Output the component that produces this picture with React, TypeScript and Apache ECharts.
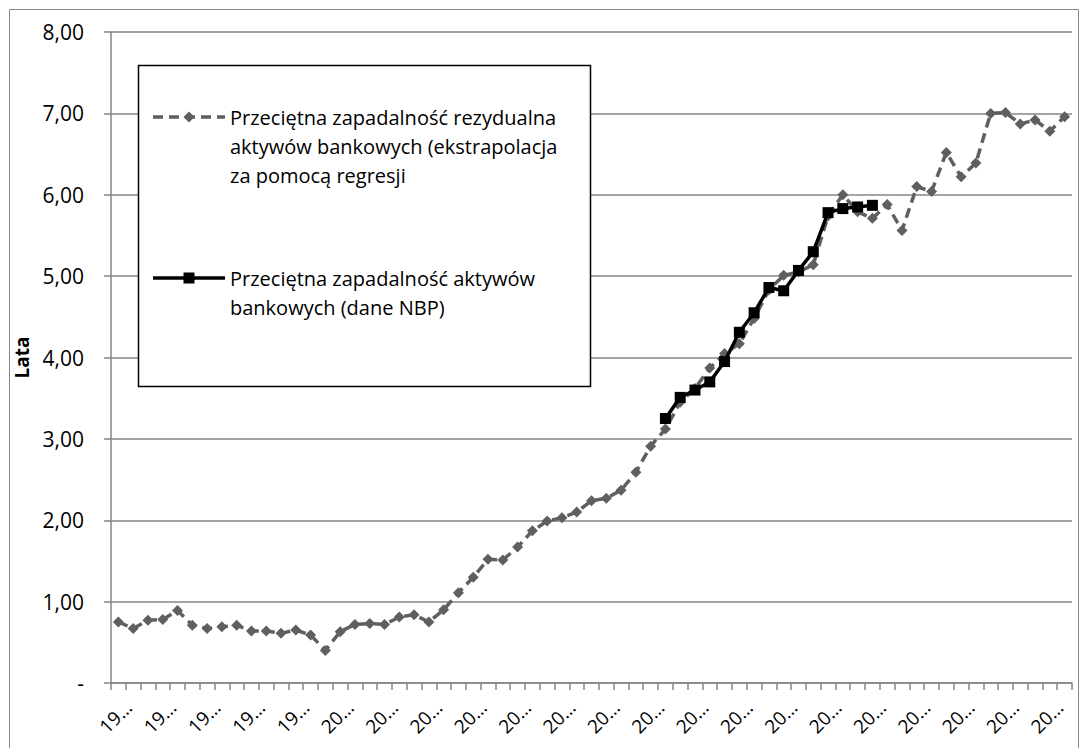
import React, { useEffect, useRef } from "react";
import * as echarts from "echarts";

const categories: string[] = [
  "1996 Q2", "1996 Q3", "1996 Q4",
  "1997 Q1", "1997 Q2", "1997 Q3", "1997 Q4",
  "1998 Q1", "1998 Q2", "1998 Q3", "1998 Q4",
  "1999 Q1", "1999 Q2", "1999 Q3", "1999 Q4",
  "2000 Q1", "2000 Q2", "2000 Q3", "2000 Q4",
  "2001 Q1", "2001 Q2", "2001 Q3", "2001 Q4",
  "2002 Q1", "2002 Q2", "2002 Q3", "2002 Q4",
  "2003 Q1", "2003 Q2", "2003 Q3", "2003 Q4",
  "2004 Q1", "2004 Q2", "2004 Q3", "2004 Q4",
  "2005 Q1", "2005 Q2", "2005 Q3", "2005 Q4",
  "2006 Q1", "2006 Q2", "2006 Q3", "2006 Q4",
  "2007 Q1", "2007 Q2", "2007 Q3", "2007 Q4",
  "2008 Q1", "2008 Q2", "2008 Q3", "2008 Q4",
  "2009 Q1", "2009 Q2", "2009 Q3", "2009 Q4",
  "2010 Q1", "2010 Q2", "2010 Q3", "2010 Q4",
  "2011 Q1", "2011 Q2", "2011 Q3", "2011 Q4",
  "2012 Q1", "2012 Q2",
];

const regressionName = "Przeciętna zapadalność rezydualna aktywów bankowych (ekstrapolacja za pomocą regresji";
const nbpName = "Przeciętna zapadalność aktywów bankowych (dane NBP)";

const regressionValues: number[] = [
  0.75, 0.67, 0.77, 0.78, 0.89, 0.71, 0.67, 0.69, 0.71, 0.64,
  0.64, 0.61, 0.65, 0.59, 0.40, 0.63, 0.72, 0.73, 0.72, 0.81,
  0.84, 0.75, 0.90, 1.11, 1.30, 1.52, 1.51, 1.67, 1.87, 1.99,
  2.03, 2.10, 2.24, 2.27, 2.37, 2.59, 2.91, 3.12, 3.45, 3.62,
  3.87, 4.05, 4.17, 4.48, 4.83, 5.01, 5.05, 5.14, 5.74, 6.00,
  5.79, 5.71, 5.88, 5.56, 6.10, 6.04, 6.52, 6.22, 6.39, 7.00,
  7.01, 6.87, 6.92, 6.78, 6.96,
];

const nbpValues: (number | null)[] = [
  null, null, null, null, null, null, null, null, null, null,
  null, null, null, null, null, null, null, null, null, null,
  null, null, null, null, null, null, null, null, null, null,
  null, null, null, null, null, null, null, 3.25, 3.51, 3.60,
  3.70, 3.95, 4.31, 4.55, 4.86, 4.82, 5.07, 5.30, 5.78, 5.83,
  5.85, 5.87, null, null, null, null, null, null, null, null,
  null, null, null, null, null,
];

const regressionLegendLines = ["Przeciętna zapadalność rezydualna", "aktywów bankowych (ekstrapolacja", "za pomocą regresji"];
const nbpLegendLines = ["Przeciętna zapadalność aktywów", "bankowych (dane NBP)"];

const LABEL_EVERY = 3;

const FONT = '"Open Sans", "Noto Sans", sans-serif';
const GRAY = "#5f5f5f";
const AXIS = "#868686";

const shortLabel = (v: string) => v.slice(0, 2) + "…";

export default function App() {
  const ref = useRef<HTMLDivElement>(null);
  useEffect(() => {
    if (!ref.current) return;
    const chart = echarts.init(ref.current, undefined, { renderer: "svg" });
    const legendText = (lines: string[], x: number, y0: number) =>
      lines.map((t, i) => ({
        type: "text",
        x,
        y: y0 + i * 29,
        z: 101,
        style: { text: t, font: `20px ${FONT}`, fill: "#000", verticalAlign: "middle", align: "left" },
      }));
    const baseGraphic: any[] = [
      {
        type: "rect",
        z: -10,
        silent: true,
        shape: { x: 9.5, y: 9.5, width: 1069, height: 760 },
        style: { fill: "none", stroke: AXIS, lineWidth: 1 },
      },
      {
        type: "rect",
        z: 100,
        shape: { x: 138.5, y: 65.5, width: 452, height: 321 },
        style: { fill: "#fff", stroke: "#000", lineWidth: 1.5 },
      },
      {
        type: "line",
        z: 101,
        shape: { x1: 153, y1: 117, x2: 225, y2: 117 },
        style: { stroke: GRAY, lineWidth: 3.5, lineDash: [10, 6] },
      },
      {
        type: "polygon",
        z: 102,
        shape: { points: [[189, 111.5], [194.5, 117], [189, 122.5], [183.5, 117]] },
        style: { fill: GRAY },
      },
      ...legendText(regressionLegendLines, 230, 117),
      {
        type: "line",
        z: 101,
        shape: { x1: 153, y1: 278, x2: 225, y2: 278 },
        style: { stroke: "#000", lineWidth: 3.5 },
      },
      {
        type: "rect",
        z: 102,
        shape: { x: 183.5, y: 272.5, width: 11, height: 11 },
        style: { fill: "#000" },
      },
      ...legendText(nbpLegendLines, 230, 278),
    ];
    chart.setOption({
      animation: false,
      backgroundColor: "#fff",
      grid: { left: 111, right: 15, top: 32, bottom: 65, containLabel: false },
      xAxis: {
        type: "category",
        data: categories,
        boundaryGap: true,
        axisLine: { lineStyle: { color: AXIS, width: 1.5 } },
        axisTick: { show: true, interval: 0, length: 7, lineStyle: { color: AXIS, width: 1.5 } },
        axisLabel: { show: false },
        splitLine: { show: false },
      },
      yAxis: {
        type: "value",
        min: 0,
        max: 8,
        interval: 1,
        name: "Lata",
        nameLocation: "middle",
        nameRotate: 90,
        nameGap: 72,
        nameTextStyle: { fontFamily: FONT, fontSize: 19, fontWeight: "bold", color: "#000" },
        axisLine: { show: true, lineStyle: { color: AXIS, width: 1.5 } },
        axisTick: { show: true, length: 7, lineStyle: { color: AXIS, width: 1.5 } },
        axisLabel: {
          margin: 27,
          color: "#000",
          fontFamily: FONT,
          fontSize: 21,
          formatter: (v: number) => (v === 0 ? "-" : v.toFixed(2).replace(".", ",")),
        },
        splitLine: { show: true, lineStyle: { color: AXIS, width: 1.5 } },
      },
      series: [
        {
          name: regressionName,
          type: "line",
          data: regressionValues,
          symbol: "diamond",
          symbolSize: 11,
          showSymbol: true,
          showAllSymbol: true,
          itemStyle: { color: GRAY },
          lineStyle: { color: GRAY, width: 3.5, type: [10, 6] },
          z: 2,
        },
        {
          name: nbpName,
          type: "line",
          data: nbpValues,
          symbol: "rect",
          symbolSize: 11,
          showSymbol: true,
          showAllSymbol: true,
          connectNulls: false,
          itemStyle: { color: "#000" },
          lineStyle: { color: "#000", width: 3.5 },
          z: 3,
        },
      ],
      graphic: baseGraphic,
    });
    // x-axis tick labels, rotated 45°, placed through the category scale
    const axisY = chart.convertToPixel({ yAxisIndex: 0 }, 0) as number;
    const labelGraphic = categories
      .map((c, i) => ({ c, i }))
      .filter(({ i }) => i % LABEL_EVERY === 0)
      .map(({ c }) => {
        const px = chart.convertToPixel({ xAxisIndex: 0 }, c) as number;
        return {
          type: "text",
          x: px + 10,
          y: axisY + 21,
          rotation: Math.PI / 4,
          z: 50,
          style: { text: shortLabel(c), font: `19px ${FONT}`, fill: "#000", align: "right", verticalAlign: "middle" },
        };
      });
    chart.setOption({ graphic: [...baseGraphic, ...labelGraphic] }, { replaceMerge: ["graphic"] });
    return () => chart.dispose();
  }, []);
  return (
    <div
      ref={ref}
      style={{ position: "fixed", left: 0, top: 0, width: 1087, height: 748 }}
    />
  );
}
